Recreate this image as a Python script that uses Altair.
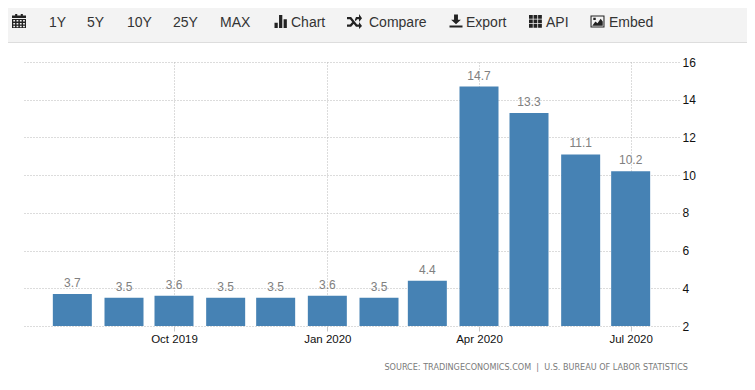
import altair as alt
import pandas as pd

months = ["2019-08-01", "2019-09-01", "2019-10-01", "2019-11-01", "2019-12-01", "2020-01-01",
          "2020-02-01", "2020-03-01", "2020-04-01", "2020-05-01", "2020-06-01", "2020-07-01"]
rates = [3.7, 3.5, 3.6, 3.5, 3.5, 3.6, 3.5, 4.4, 14.7, 13.3, 11.1, 10.2]
y_ticks = [2, 4, 6, 8, 10, 12, 14, 16]
source_text = "SOURCE:\u00a0TRADINGECONOMICS.COM\u00a0\u00a0|\u00a0\u00a0U.S.\u00a0BUREAU\u00a0OF\u00a0LABOR\u00a0STATISTICS"

df = pd.DataFrame({"date": months, "rate": rates, "floor": [2] * len(months)})
one = alt.Data(values=[{"a": 1}])
PLOT_L, PLOT_T = 24, 62
W, H = 655, 264


def px(v):
    return v - PLOT_L


def py(v):
    return v - PLOT_T


def box(x0, y0, x1, y1, fill):
    return alt.Chart(one).mark_rect(fill=fill).encode(
        x=alt.value(px(x0)), x2=alt.value(px(x1)), y=alt.value(py(y0)), y2=alt.value(py(y1)))


def label(x, y, text, size=14, color="#333333", font="Liberation Sans", align="left"):
    return alt.Chart(one).mark_text(font=font, fontSize=size, color=color, align=align, baseline="middle").encode(
        x=alt.value(px(x)), y=alt.value(py(y)), text=alt.value(text))


def icon(cx, cy, side, path):
    return alt.Chart(one).mark_point(shape=path, filled=True, opacity=1, color="#222222", size=side * side).encode(
        x=alt.value(px(cx)), y=alt.value(py(cy)))


def r(x0, y0, x1, y1, ccw=False):
    if ccw:
        return f"M{x0},{y0}V{y1}H{x1}V{y0}Z"
    return f"M{x0},{y0}H{x1}V{y1}H{x0}Z"


cal = r(-1, -0.8, 1, 1) + r(-0.55, -1, -0.25, -0.6) + r(0.25, -1, 0.55, -0.6)
cal += r(-1, -0.42, 1, -0.28, True)
for a in (-0.82, -0.35, 0.12, 0.58):
    for b in (-0.15, 0.28, 0.68):
        cal += r(a, b, a + 0.26, b + 0.22, True)
bars_ic = r(-1, 0.2, -0.5, 1) + r(-0.3, -1, 0.2, 1) + r(0.4, -0.35, 0.9, 1)
shuffle = ("M-1,-0.6H-0.45L0.35,0.4H0.6V0.05L1,0.6L0.6,1V0.7H0.2L-0.6,-0.3H-1Z"
           "M-1,0.4H-0.6L-0.3,0.05L-0.1,0.3L-0.45,0.7H-1Z"
           "M0.05,-0.25L0.2,-0.6H0.6V-1L1,-0.45L0.6,0.05V-0.3H0.35L0.15,-0.05Z")
export = "M-0.3,-1H0.3V-0.2H0.75L0,0.5L-0.75,-0.2H-0.3Z" + r(-1, 0.7, 1, 1)
grid_ic = ""
for a in (-1, -0.3, 0.4):
    for b in (-1, -0.3, 0.4):
        grid_ic += r(a, b, a + 0.58, b + 0.58)
image_ic = (r(-1, -0.85, 1, 0.85) + r(-0.85, -0.7, 0.85, 0.7, True)
            + "M-0.75,0.6L-0.3,0L0,0.25L0.45,-0.4L0.75,0V0.6Z" + r(-0.6, -0.55, -0.25, -0.2))

x_scale = alt.Scale(type="utc", padding=0, domain=[
    alt.DateTime(year=2019, month="jul", date=3, utc=True),
    alt.DateTime(year=2020, month="jul", date=30, utc=True)])
x_ticks = [alt.DateTime(year=2019, month="oct", date=1, utc=True),
           alt.DateTime(year=2020, month="jan", date=1, utc=True),
           alt.DateTime(year=2020, month="apr", date=1, utc=True),
           alt.DateTime(year=2020, month="jul", date=1, utc=True)]

base = alt.Chart(df)
bars = base.mark_bar(width=39, color="#4682B4").encode(
    x=alt.X("date:T", scale=x_scale, title=None, axis=alt.Axis(
        values=x_ticks, format="%b %Y", grid=True, gridColor="#b8b8b8", gridDash=[1, 2],
        domain=False, tickColor="#c8c8c8", tickSize=5, labelColor="#111111",
        labelFont="Liberation Sans", labelFontSize=11.5, labelPadding=2, labelFlush=False)),
    y=alt.Y("rate:Q", scale=alt.Scale(domain=[2, 16], nice=False, zero=False, padding=0), title=None, axis=alt.Axis(
        orient="right", values=y_ticks, tickCount=20, format="d", grid=True, gridColor="#b8b8b8", gridDash=[1, 2],
        domain=False, ticks=False, labelColor="#111111", labelFont="Liberation Sans", labelFontSize=12,
        labelPadding=3)),
    y2="floor:Q",
)
values = base.mark_text(font="Liberation Sans", fontSize=12, color="#808080", baseline="bottom", dy=-4).encode(
    x="date:T", y="rate:Q", text=alt.Text("rate:Q", format=".1f"))

chrome = [
    box(2.5, 383, 750.5, 383.5, "#eeeeee"),
    box(750, 42, 751, 383, "#f0f0f0"),
    box(2, 3, 753, 43, "#dddddd"),
    box(3, 5, 752, 42, "#f3f3f3"),
    icon(19, 21, 14, cal),
    label(49, 22.5, "1Y"),
    label(87, 22.5, "5Y"),
    label(127, 22.5, "10Y"),
    label(173, 22.5, "25Y"),
    label(220, 22.5, "MAX"),
    icon(281, 21.5, 13, bars_ic),
    label(291, 22.5, "Chart"),
    icon(354.5, 21.5, 15, shuffle),
    label(369, 22.5, "Compare"),
    icon(456, 21, 13, export),
    label(466, 22.5, "Export"),
    icon(535.5, 21.5, 13, grid_ic),
    label(546, 22.5, "API"),
    icon(597.5, 21.5, 14, image_ic),
    label(609, 22.5, "Embed"),
    label(688, 368, source_text, size=8.1, color="#7a7a7a", font="DejaVu Sans", align="right"),
]

chart = alt.layer(bars, values, *chrome).properties(
    width=W, height=H,
    autosize=alt.AutoSizeParams(type="none", contains="content"),
    padding={"left": PLOT_L - 8, "top": PLOT_T - 8, "right": 68, "bottom": 56},
    background="white",
).configure_view(stroke=None)

chart.save("out.html", embed_options={"renderer": "svg", "actions": False})
